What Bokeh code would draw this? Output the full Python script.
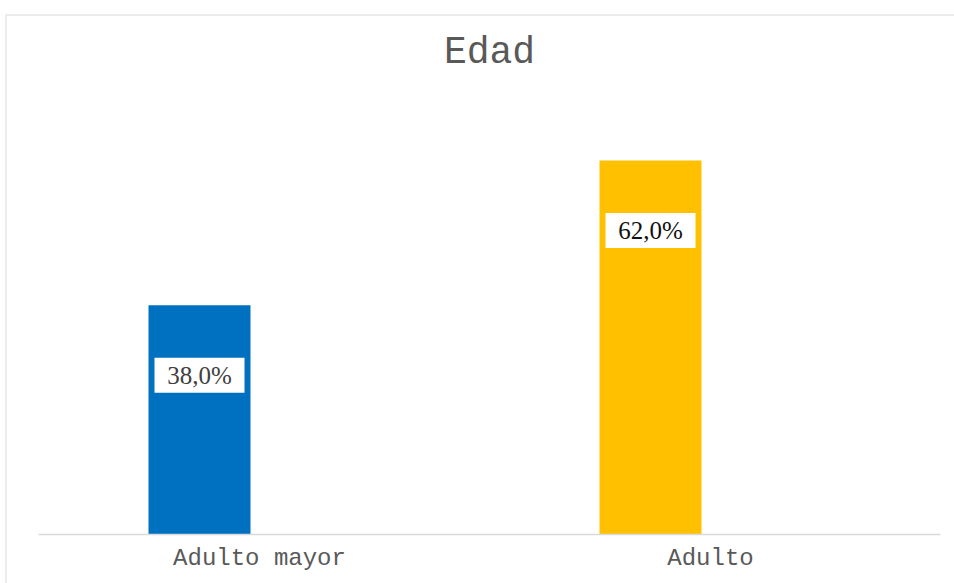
from bokeh.plotting import figure
from bokeh.models import Range1d, ColumnDataSource, Span
from bokeh.transform import dodge
from bokeh.core.properties import value
from bokeh.embed import file_html
from bokeh.resources import INLINE

# ---- data ----
categories = ["Adulto mayor", "Adulto"]
percentages = [38.0, 62.0]
label_texts = ["38,0%", "62,0%"]
bar_colors = ["#0070C0", "#FFC000"]
label_colors = ["#404040", "#111111"]
title_text = "Edad"

# ---- layout constants (pixels) ----
W, H = 954, 583
TOP = 14
LEFT = 5
PX_PER_UNIT_Y = 6.034        # px per percent
PX_PER_CAT = 451.0           # px between category centers
BASE_FROM_BOTTOM = 49        # baseline distance from frame bottom (px)
FIRST_CAT_PX = 254           # first category center from frame left (px)
BAR_SHIFT_PX = -60           # bars sit left of the category centre

frame_w = W - LEFT
frame_h = H - TOP
y_start = -BASE_FROM_BOTTOM / PX_PER_UNIT_Y
y_end = y_start + frame_h / PX_PER_UNIT_Y
x_start = -FIRST_CAT_PX / PX_PER_CAT
x_end = x_start + frame_w / PX_PER_CAT

def xpx(px):
    return x_start + px / PX_PER_CAT

def ypx_from_base(px):
    return px / PX_PER_UNIT_Y

p = figure(width=W, height=H, output_backend="svg", toolbar_location=None,
           x_range=Range1d(x_start, x_end), y_range=Range1d(y_start, y_end),
           min_border_left=LEFT, min_border_right=0, min_border_top=TOP,
           min_border_bottom=0, x_axis_type=None, y_axis_type=None)
p.grid.visible = False
p.outline_line_color = None
p.background_fill_color = "white"
p.border_fill_color = "white"

# chart-area border (only the top and left edges fall inside the window)
p.add_layout(Span(location=x_start, dimension="height",
                  line_color="#d9d9d9", line_width=2))
p.add_layout(Span(location=y_end, dimension="width",
                  line_color="#d9d9d9", line_width=2))

idx = list(range(len(categories)))
src = ColumnDataSource(dict(
    x=idx, top=percentages, color=bar_colors, cat=categories,
    lab=label_texts, labcol=label_colors,
    laby=[v - ypx_from_base(70) for v in percentages],
    caty=[-ypx_from_base(24)] * len(categories),
))
shift = BAR_SHIFT_PX / PX_PER_CAT

# bars
p.vbar(x=dodge("x", shift), top="top", bottom=0, width=102 / PX_PER_CAT,
       color="color", line_color=None, source=src)

# axis line
p.segment(x0=[xpx(33)], y0=[0], x1=[xpx(935)], y1=[0],
          line_color="#d9d9d9", line_width=1.5)

# data labels with white boxes
p.rect(x=dodge("x", shift), y="laby", width=90, height=35, width_units="screen",
       height_units="screen", fill_color="white", line_color=None, source=src)
p.text(x=dodge("x", shift), y="laby", text="lab", text_color="labcol",
       text_font=value("Liberation Serif"), text_font_size="25px",
       text_align="center", text_baseline="middle", source=src)

# category labels
p.text(x="x", y="caty", text="cat", text_color="#595959",
       text_font=value("Liberation Mono"), text_font_size="24px",
       text_align="center", text_baseline="middle", source=src)

# title
p.text(x=[xpx(484)], y=[ypx_from_base(534 - 52)], text=[title_text],
       text_color="#595959", text_font=value("Liberation Mono"),
       text_font_size="38px", text_align="center", text_baseline="middle")

open("out.html", "w").write(file_html(p, INLINE))
